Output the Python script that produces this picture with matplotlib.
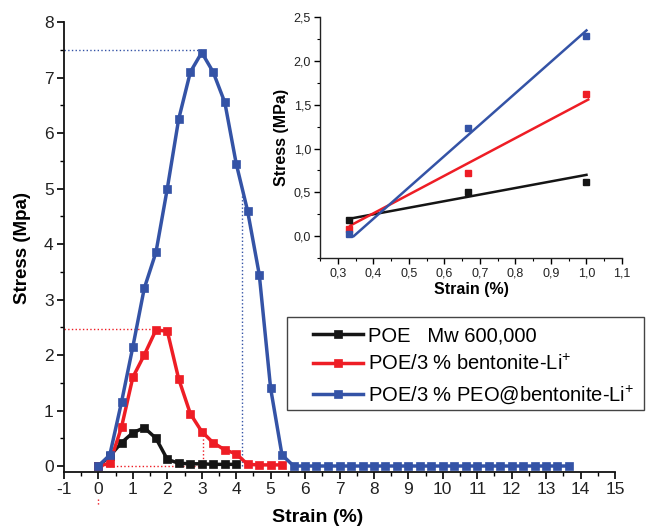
import numpy as np
import matplotlib
matplotlib.use('Agg')
import matplotlib.pyplot as plt
from matplotlib.patches import Rectangle
from matplotlib.ticker import MultipleLocator, FuncFormatter

plt.rcParams['font.family'] = ['Liberation Sans', 'DejaVu Sans']
plt.rcParams['mathtext.fontset'] = 'custom'
plt.rcParams['mathtext.rm'] = 'Liberation Sans'
plt.rcParams['axes.unicode_minus'] = False

# strain steps (%) of the tensile test
strain = [0.0, 0.33, 0.67, 1.0, 1.33, 1.67, 2.0, 2.33, 2.67, 3.0, 3.33, 3.67,
          4.0, 4.33, 4.67, 5.0, 5.33, 5.67, 6.0, 6.33, 6.67, 7.0, 7.33, 7.67,
          8.0, 8.33, 8.67, 9.0, 9.33, 9.67, 10.0, 10.33, 10.67, 11.0, 11.33,
          11.67, 12.0, 12.33, 12.67, 13.0, 13.33, 13.67]

stress_poe = [0.0, 0.18, 0.42, 0.60, 0.69, 0.50, 0.12, 0.05, 0.04, 0.04, 0.03,
              0.03, 0.03]
stress_bent = [0.0, 0.05, 0.70, 1.60, 2.00, 2.45, 2.43, 1.57, 0.94, 0.62, 0.42,
               0.29, 0.22, 0.03, 0.02, 0.02, 0.02]
stress_peo = [0.0, 0.20, 1.15, 2.15, 3.20, 3.85, 5.00, 6.25, 7.10, 7.45, 7.10,
              6.55, 5.45, 4.60, 3.45, 1.40, 0.20, 0.0, 0.0, 0.0, 0.0, 0.0, 0.0,
              0.0, 0.0, 0.0, 0.0, 0.0, 0.0, 0.0, 0.0, 0.0, 0.0, 0.0, 0.0, 0.0,
              0.0, 0.0, 0.0, 0.0, 0.0, 0.0]

labels = ['POE   Mw 600,000',
          'POE/3 % bentonite-Li$^{+}$',
          'POE/3 % PEO@bentonite-Li$^{+}$']

# inset: elastic region with linear fits
ins_x = [0.333, 0.667, 1.0]
ins_poe = [0.18, 0.50, 0.62]
ins_bent = [0.08, 0.72, 1.62]
ins_peo = [0.02, 1.23, 2.29]
fit_poe_x, fit_poe_y = [0.335, 1.0], [0.20, 0.70]
fit_bent_x, fit_bent_y = [0.335, 1.005], [0.12, 1.56]
fit_peo_x, fit_peo_y = [0.345, 1.0], [0.0, 2.35]

BLACK = '#151515'
RED = '#ee1d25'
BLUE = '#3453a6'
TXT = '#222222'

W, H = 646, 529
fig = plt.figure(figsize=(W / 100, H / 100), dpi=100)
ax = fig.add_axes([64 / W, 1 - 472 / H, 551 / W, 450 / H])

series = [(stress_poe, BLACK), (stress_bent, RED), (stress_peo, BLUE)]
for i, ((ys, col), lab) in enumerate(zip(series, labels)):
    ax.plot(strain[:len(ys)], ys, '-s', color=col, lw=2.5, ms=6.2,
            mec=col, mew=0.5, label=lab, zorder=3 + i)

# guide lines for the yield points
ax.plot([-1, 3.0], [7.5, 7.5], ':', color=BLUE, lw=1, zorder=2)
ax.plot([4.17, 4.17], [0, 4.9], ':', color=BLUE, lw=1, zorder=2)
ax.plot([-1, 1.67], [2.47, 2.47], ':', color=RED, lw=1, zorder=2)
ax.plot([3.05, 3.05], [0, 0.6], ':', color=RED, lw=1, zorder=2)
ax.plot([0, 3.05], [0.0, 0.0], ':', color=RED, lw=1, zorder=2)
ax.plot([0, 0], [-0.6, -0.72], ':', color=RED, lw=1, clip_on=False)

ax.set_xlim(-1, 15)
ax.set_ylim(-0.108, 8.0)
ax.xaxis.set_major_locator(MultipleLocator(1))
ax.xaxis.set_minor_locator(MultipleLocator(0.5))
ax.yaxis.set_major_locator(MultipleLocator(1))
ax.yaxis.set_minor_locator(MultipleLocator(0.5))
for s in ['top', 'right']:
    ax.spines[s].set_visible(False)
for s in ['left', 'bottom']:
    ax.spines[s].set_linewidth(1.3)
    ax.spines[s].set_color('#111111')
ax.tick_params(which='major', direction='out', length=5, width=1.2,
               labelsize=12.5, labelcolor=TXT, pad=2.5)
ax.tick_params(which='minor', direction='out', length=3, width=1.0)
ax.set_xlabel('Strain (%)', fontsize=14, fontweight='bold')
ax.xaxis.set_label_coords((318 - 64) / 551, -37 / 450)
ax.set_ylabel('Stress (Mpa)', fontsize=13.5, fontweight='bold')
ax.yaxis.set_label_coords(-33 / 551, (472 - 248) / 450)

# legend with a hand-placed frame
leg = ax.legend(loc='upper left', bbox_to_anchor=(313 / W, 1 - 326 / H),
                bbox_transform=fig.transFigure, fontsize=14.5, frameon=False,
                handlelength=2.5, handletextpad=0.25, borderpad=0,
                labelspacing=0.45, borderaxespad=0, markerscale=0.9)
fig.patches.append(Rectangle((287 / W, 1 - 410 / H), 357 / W, 93 / H,
                             transform=fig.transFigure, fill=False,
                             ec='#444444', lw=1.0))

# inset
axi = fig.add_axes([320 / W, 1 - 258 / H, 302 / W, 240.7 / H])
axi.plot(fit_poe_x, fit_poe_y, color=BLACK, lw=1.8)
axi.plot(fit_bent_x, fit_bent_y, color=RED, lw=1.8)
axi.plot(fit_peo_x, fit_peo_y, color=BLUE, lw=1.8)
axi.plot(ins_x, ins_poe, 's', color=BLACK, ms=4)
axi.plot(ins_x, ins_bent, 's', color=RED, ms=4)
axi.plot(ins_x, ins_peo, 's', color=BLUE, ms=4)
axi.set_xlim(0.25, 1.1)
axi.set_ylim(-0.25, 2.5)
axi.xaxis.set_major_locator(MultipleLocator(0.1))
axi.xaxis.set_minor_locator(MultipleLocator(0.05))
axi.yaxis.set_major_locator(MultipleLocator(0.5))
axi.yaxis.set_minor_locator(MultipleLocator(0.25))
comma = FuncFormatter(lambda v, p: f'{v:.1f}'.replace('.', ','))
axi.xaxis.set_major_formatter(comma)
axi.yaxis.set_major_formatter(comma)
for s in ['top', 'right']:
    axi.spines[s].set_visible(False)
for s in ['left', 'bottom']:
    axi.spines[s].set_linewidth(1.0)
    axi.spines[s].set_color('#222222')
axi.tick_params(which='major', direction='out', length=4, width=1.0,
                labelsize=9, labelcolor=TXT, pad=2.5)
axi.tick_params(which='minor', direction='out', length=2, width=0.8)
axi.set_xlabel('Strain (%)', fontsize=11.5, fontweight='bold', labelpad=2)
axi.set_ylabel('Stress (MPa)', fontsize=11.5, fontweight='bold', labelpad=3)

fig.savefig('out.png', dpi=100)
